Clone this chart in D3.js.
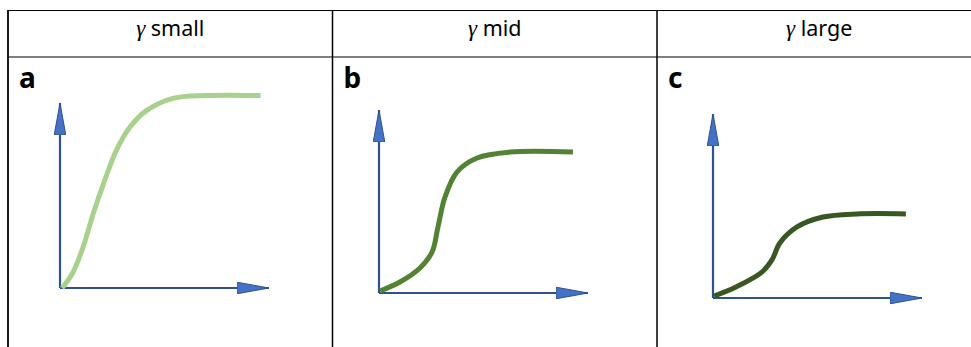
<!DOCTYPE html>
<html>
<head>
<meta charset="utf-8">
<script src="https://cdn.jsdelivr.net/npm/d3@7"></script>
<style>
  body { margin: 0; background: #fff; }
  svg { display: block; }
</style>
</head>
<body>
<div id="chart"></div>
<script>
// panel labels and column headers
const panelLabels = ["a", "b", "c"];
const headerWords = ["small", "mid", "large"];

// curve values, in axis units (each axis runs 0..100, origin at 0)
const curveA_x = [1, 6, 11, 16, 21, 27, 33.5, 41.5, 54, 70, 96];
const curveA_y = [0, 8, 22, 40.5, 57, 74.5, 87, 96, 102.5, 104, 104];
const curveB_x = [0.5, 10, 19.6, 25.4, 28.2, 31.6, 37.3, 46.9, 62.7, 92.8];
const curveB_y = [1.1, 6, 13.7, 22.4, 36, 52.5, 66.1, 73.8, 77, 77];
const curveC_x = [0.5, 11, 23.4, 28.2, 32, 40.2, 52.6, 68.9, 92.3];
const curveC_y = [1.1, 6, 14.1, 20.7, 29.9, 38.6, 44, 45.7, 45.7];

const width = 971, height = 347;
const colW = 324.5, tableLeft = 8, tableTop = 10.5, headerBottom = 57;

const panels = [
  { xs: curveA_x, ys: curveA_y, color: "#a9d18e", ox: 60, oy: 288, w: 209, h: 185 },
  { xs: curveB_x, ys: curveB_y, color: "#548235", ox: 379, oy: 293, w: 209, h: 183 },
  { xs: curveC_x, ys: curveC_y, color: "#385723", ox: 713, oy: 298, w: 209, h: 184 },
];

const svg = d3.select("#chart").append("svg")
  .attr("width", width)
  .attr("height", height);

// arrowhead marker
svg.append("defs").append("marker")
  .attr("id", "arrow")
  .attr("markerUnits", "userSpaceOnUse")
  .attr("viewBox", "0 -6 32 12")
  .attr("refX", 32)
  .attr("refY", 0)
  .attr("markerWidth", 32)
  .attr("markerHeight", 12)
  .attr("orient", "auto")
  .append("path")
  .attr("d", "M0,-5.8L32,0L0,5.8Z")
  .attr("fill", "#4472c4")
  .attr("stroke", "#2f528f")
  .attr("stroke-width", 1);

// table grid
const grid = svg.append("g").attr("stroke", "#000");
grid.append("line")
  .attr("x1", tableLeft).attr("x2", width)
  .attr("y1", tableTop).attr("y2", tableTop)
  .attr("stroke-width", 1.2);
grid.append("line")
  .attr("x1", tableLeft).attr("x2", width)
  .attr("y1", headerBottom).attr("y2", headerBottom)
  .attr("stroke-width", 1.2);
[0, 1, 2].forEach((i) => {
  grid.append("line")
    .attr("x1", tableLeft + i * colW).attr("x2", tableLeft + i * colW)
    .attr("y1", tableTop - 0.6).attr("y2", height)
    .attr("stroke-width", i === 0 ? 1.8 : 1.5);
});

// headers
headerWords.forEach((word, i) => {
  const t = svg.append("text")
    .attr("x", tableLeft + colW * i + colW / 2)
    .attr("y", 36)
    .attr("text-anchor", "middle")
    .attr("font-family", "'Noto Sans', sans-serif")
    .attr("font-size", 21.5)
    .attr("fill", "#000");
  t.append("tspan")
    .attr("font-family", "'Liberation Serif', serif")
    .attr("font-style", "italic")
    .attr("font-size", 23)
    .text("\u03b3");
  t.append("tspan").text(" " + word);
});

// panel letters
panelLabels.forEach((lab, i) => {
  svg.append("text")
    .attr("x", tableLeft + colW * i + 11)
    .attr("y", 88)
    .attr("font-family", "'Noto Sans', sans-serif")
    .attr("font-weight", "bold")
    .attr("font-size", 28)
    .attr("fill", "#000")
    .text(lab);
});

// each panel: axes and curve
panels.forEach((p) => {
  const x = d3.scaleLinear().domain([0, 100]).range([p.ox, p.ox + p.w]);
  const y = d3.scaleLinear().domain([0, 100]).range([p.oy, p.oy - p.h]);
  const g = svg.append("g");

  g.append("line")
    .attr("x1", x(0)).attr("y1", y(0))
    .attr("x2", x(0)).attr("y2", y(100))
    .attr("stroke", "#2f528f")
    .attr("stroke-width", 2.2)
    .attr("marker-end", "url(#arrow)");
  g.append("line")
    .attr("x1", x(0)).attr("y1", y(0))
    .attr("x2", x(100)).attr("y2", y(0))
    .attr("stroke", "#2f528f")
    .attr("stroke-width", 2.2)
    .attr("marker-end", "url(#arrow)");

  const pts = p.xs.map((v, k) => [v, p.ys[k]]);
  const line = d3.line()
    .x((d) => x(d[0]))
    .y((d) => y(d[1]))
    .curve(d3.curveCatmullRom.alpha(0.5));
  g.append("path")
    .datum(pts)
    .attr("d", line)
    .attr("fill", "none")
    .attr("stroke", p.color)
    .attr("stroke-width", 5);
});
</script>
</body>
</html>
